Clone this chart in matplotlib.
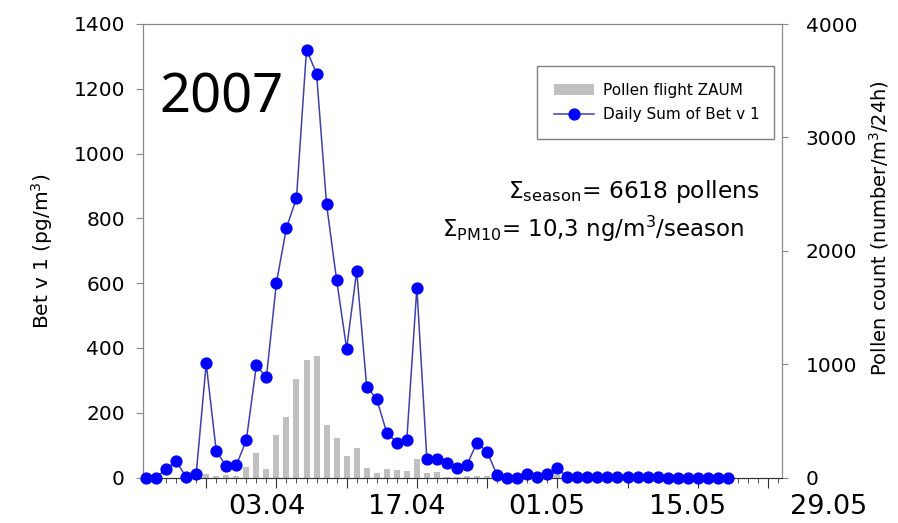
import datetime as dt
import matplotlib
matplotlib.use("Agg")
import matplotlib.pyplot as plt
from matplotlib.patches import Patch
from matplotlib.lines import Line2D

# daily values, first day of the series is 22.03.2007
start_day = dt.date(2007, 3, 22)

# Bet v 1 daily sum (pg/m3), left axis
bet_v1 = [0, 0, 26, 50, 2, 10, 352, 82, 35, 38,
          115, 346, 309, 601, 771, 862, 1321, 1247, 843, 610,
          398, 637, 280, 242, 138, 108, 117, 586, 56, 56,
          45, 28, 40, 108, 79, 8, 0, 0, 10, 3,
          11, 29, 1, 1, 1, 1, 1, 1, 1, 1,
          1, 1, 0, 0, 0, 0, 0, 0, 0]

# pollen count (number/m3/24h), right axis
pollen = [0, 0, 0, 0, 0, 0, 32, 17, 20, 11,
          96, 214, 76, 377, 535, 867, 1040, 1075, 465, 351,
          190, 257, 82, 43, 73, 67, 58, 163, 38, 52,
          8, 5, 10, 15, 12, 5, 0, 0, 0, 0,
          3, 20, 0, 0, 0, 0, 0, 0, 0, 0,
          0, 0, 0, 0, 0, 0, 0, 0, 0]

date_labels = ["03.04", "17.04", "01.05", "15.05", "29.05"]

days = list(range(len(bet_v1)))
label_days = [(dt.datetime.strptime(s + ".2007", "%d.%m.%Y").date() - start_day).days
              for s in date_labels]

plt.rcParams["font.family"] = "DejaVu Sans"
plt.rcParams["mathtext.default"] = "regular"

fig = plt.figure(figsize=(8.98, 5.23), dpi=100)
ax = fig.add_axes([143 / 898, 1 - 477.5 / 523, 639 / 898, 453.5 / 523])
ax2 = ax.twinx()

ax2.bar(days, pollen, width=0.6, color="#c0c0c0", zorder=1)
ax.plot(days, bet_v1, color="#4040aa", lw=1.1, marker="o", ms=7.8,
        mfc="#0000ff", mec="#0000ff", clip_on=False, zorder=3)
ax.set_zorder(ax2.get_zorder() + 1)
ax.patch.set_visible(False)

ax.set_xlim(-0.3, 63.4)
ax.set_ylim(0, 1400)
ax2.set_ylim(0, 4000)
ax.set_yticks(range(0, 1401, 200))
ax2.set_yticks(range(0, 4001, 1000))
ax.set_xticks(range(6, 64, 7))
ax.set_xticks(range(0, 64), minor=True)

for a in (ax, ax2):
    for sp in a.spines.values():
        sp.set_color("#888888")
    a.spines["bottom"].set_color("#333333")

ax.tick_params(axis="y", direction="out", length=5, color="#888888", labelsize=14.5, pad=8)
ax2.tick_params(axis="y", direction="out", length=4, color="#888888", labelsize=14.5, pad=13)
ax.tick_params(axis="x", which="major", direction="out", length=7, color="#333333",
               labelbottom=False)
ax.tick_params(axis="x", which="minor", direction="out", length=3.5, color="#333333")

# date labels sit one day left of the weekly ticks, the last one beyond the axis end
for d, s in zip(label_days, date_labels):
    ax.text(d, -0.037, s, transform=ax.get_xaxis_transform(), ha="center", va="top",
            fontsize=19.5, clip_on=False)

ax.set_ylabel("Bet v 1 (pg/m$^3$)", fontsize=14.5)
ax.yaxis.set_label_coords(-0.138, 0.5)
ax2.set_ylabel("Pollen count (number/m$^3$/24h)", fontsize=14)
ax2.yaxis.set_label_coords(1.133, 0.55)

ax.text(0.026, 0.804, "2007", transform=ax.transAxes, fontsize=39,
        family="Noto Sans", va="baseline", ha="left")
ax.text(0.571, 0.616, "Σ$_{season}$= 6618 pollens", transform=ax.transAxes,
        fontsize=16.8, va="baseline", ha="left")
ax.text(0.468, 0.530, "Σ$_{PM10}$= 10,3 ng/m$^3$/season", transform=ax.transAxes,
        fontsize=16.5, va="baseline", ha="left")

handles = [Patch(facecolor="#c0c0c0", edgecolor="none"),
           Line2D([], [], color="#4040aa", lw=1.1, marker="o", ms=7.8,
                  mfc="#0000ff", mec="#0000ff")]
leg = ax.legend(handles, ["Pollen flight ZAUM", "Daily Sum of Bet v 1"],
                loc="upper left", bbox_to_anchor=(0.6166, 0.9074, 0.3709, 0.0),
                mode="expand", borderaxespad=0, fontsize=11, fancybox=False,
                edgecolor="#808080", framealpha=1, handlelength=2.6,
                handletextpad=0.6, borderpad=1.1, labelspacing=0.6)
leg.get_frame().set_linewidth(1.0)

fig.savefig("out.png", dpi=100)
